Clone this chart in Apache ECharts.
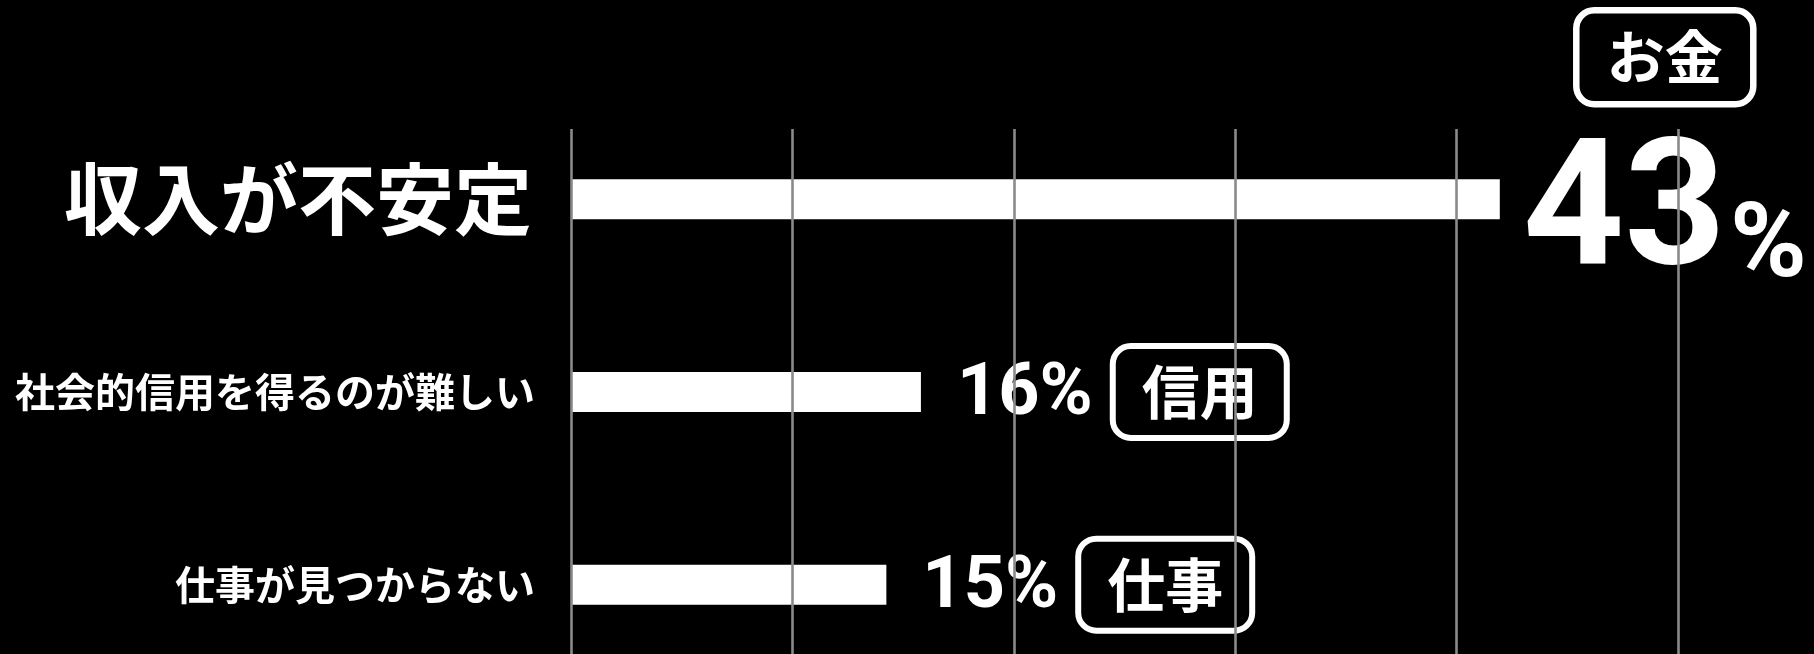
<!DOCTYPE html>
<html>
<head>
<meta charset="utf-8">
<script src="https://cdn.jsdelivr.net/npm/echarts@6/dist/echarts.min.js"></script>
<style>
html,body{margin:0;padding:0;background:#000;}
#chart{width:1814px;height:654px;}
</style>
</head>
<body>
<div id="chart"></div>
<script>
// ---- data ----
const categories = ['収入が不安定', '社会的信用を得るのが難しい', '仕事が見つからない'];
const values = [43, 16.2, 14.6];
const tags = ['お金', '信用', '仕事'];
const axisMin = 0;
const axisStep = 10.25;
const axisMax = 51.25;

const JP = '"Noto Sans CJK JP", "Noto Sans", sans-serif';
const NUM = 'Roboto, "Liberation Sans", sans-serif';

const chart = echarts.init(document.getElementById('chart'));

const barData = values.map(function (v, i) {
  return {
    value: v,
    label: i === 0 ? { distance: 23, offset: [0, -28] } : { distance: 36 }
  };
});

const option = {
  backgroundColor: '#000',
  animation: false,
  grid: [
    { left: 571, width: 1107, top: 129, bottom: 0, outerBoundsMode: 'none' },
    { left: 571, width: 1107, top: 103, height: 578, outerBoundsMode: 'none' }
  ],
  xAxis: [
    {
      gridIndex: 0, type: 'value', min: axisMin, max: axisMax, interval: axisStep,
      z: 10,
      axisLine: { show: false }, axisTick: { show: false }, axisLabel: { show: false },
      splitLine: { show: true, lineStyle: { color: '#8a8a8a', width: 2.6 } }
    },
    {
      gridIndex: 1, type: 'value', min: axisMin, max: axisMax, interval: axisStep,
      axisLine: { show: false }, axisTick: { show: false }, axisLabel: { show: false },
      splitLine: { show: false }
    }
  ],
  yAxis: [
    { gridIndex: 0, type: 'value', show: false },
    {
      gridIndex: 1, type: 'category', inverse: true, data: categories,
      axisLine: { show: false }, axisTick: { show: false }, splitLine: { show: false },
      axisLabel: {
        margin: 36,
        formatter: function (val, idx) {
          return idx === 0 ? '{big|' + val + '}' : '{small|' + val + '}';
        },
        rich: {
          big: { fontFamily: JP, fontWeight: 'bold', fontSize: 78, color: '#fff', padding: [0, 3, 0, 0] },
          small: { fontFamily: JP, fontWeight: 'bold', fontSize: 40, color: '#fff' }
        }
      }
    }
  ],
  series: [
    {
      type: 'bar',
      xAxisIndex: 1,
      yAxisIndex: 1,
      data: barData,
      barWidth: 40,
      itemStyle: { color: '#fff' },
      label: {
        show: true,
        position: 'right',
        formatter: function (p) {
          const i = p.dataIndex;
          const pct = Math.round(values[i]);
          if (i === 0) {
            return '{tag0|' + tags[i] + '}\n{big|' + pct + '}{bigp|%}';
          }
          return '{num|' + pct + '%}{tag|' + tags[i] + '}';
        },
        rich: {
          tag0: {
            fontFamily: JP, fontWeight: 'bold', fontSize: 58, color: '#fff',
            width: 177, height: 94, lineHeight: 94, align: 'center',
            borderColor: '#fff', borderWidth: 6.5, borderRadius: 18
          },
          big: {
            fontFamily: NUM, fontWeight: 'bold', fontSize: 177, color: '#fff',
            lineHeight: 228, align: 'center'
          },
          bigp: {
            fontFamily: NUM, fontWeight: 'bold', fontSize: 104, color: '#fff',
            align: 'center', padding: [64, 0, 0, 4]
          },
          num: {
            fontFamily: NUM, fontWeight: 'bold', fontSize: 72, color: '#fff',
            lineHeight: 72, padding: [8, 20, 0, 0]
          },
          tag: {
            fontFamily: JP, fontWeight: 'bold', fontSize: 58, color: '#fff',
            width: 174, height: 92, lineHeight: 92, align: 'center',
            borderColor: '#fff', borderWidth: 6, borderRadius: 18
          }
        }
      }
    }
  ]
};

chart.setOption(option);
</script>
</body>
</html>
